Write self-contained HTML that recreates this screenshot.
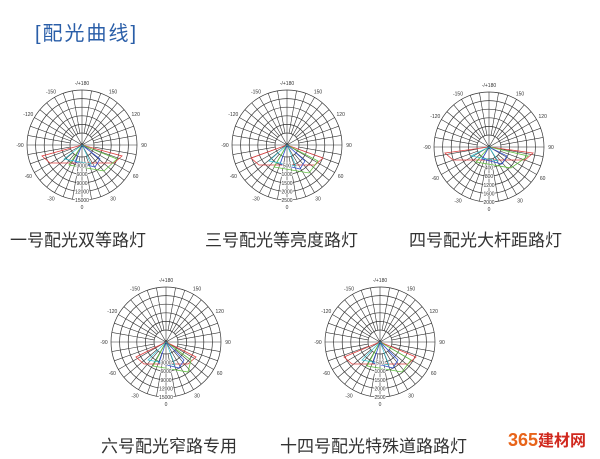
<!DOCTYPE html>
<html><head><meta charset="utf-8"><style>
body{margin:0;width:600px;height:459px;background:#fff;overflow:hidden;position:relative;font-family:"Liberation Sans","Noto Sans CJK SC",sans-serif}
.t{position:absolute;color:#333;font-size:17px;white-space:nowrap;font-family:"Liberation Sans","Noto Sans CJK SC",sans-serif}
</style></head><body>
<div class="t" style="left:35px;top:17px;color:#2a5ea8;font-size:20px;letter-spacing:2px">[配光曲线]</div>
<svg id="s" width="600" height="459" style="position:absolute;left:0;top:0"></svg>
<div class="t" style="left:10px;top:226px">一号配光双等路灯</div>
<div class="t" style="left:205px;top:226px">三号配光等亮度路灯</div>
<div class="t" style="left:409px;top:226px">四号配光大杆距路灯</div>
<div class="t" style="left:101px;top:432px">六号配光窄路专用</div>
<div class="t" style="left:280px;top:432px">十四号配光特殊道路路灯</div>
<div class="t" style="left:508px;top:427px;font-size:18px;font-weight:bold;color:#e8641a">365<span style="color:#d0281e;font-size:16px">建材网</span></div>
<script>
var s=document.getElementById('s'),h='';
var C=[[82,145,['3000','6000','9000','12000','15000']],[287,145,['500','1000','1500','2000','2500']],[489,147,['400','800','1200','1600','2000']],[166,342,['3000','6000','9000','12000','15000']],[380,342,['500','1000','1500','2000','2500']]];
C.forEach(function(c,k){var x=c[0],y=c[1],R=55,r0=12;
for(var i=0;i<=5;i++){var r=i==0?r0:r0+(R-r0)*i/5;h+='<circle cx="'+x+'" cy="'+y+'" r="'+r+'" fill="none" stroke="#333" stroke-width="0.7"/>';}
for(var a=0;a<360;a+=10){var t=a*Math.PI/180,ri=(a%30==0)?0:r0;h+='<line x1="'+(x+ri*Math.sin(t))+'" y1="'+(y+ri*Math.cos(t))+'" x2="'+(x+R*Math.sin(t))+'" y2="'+(y+R*Math.cos(t))+'" stroke="#333" stroke-width="0.6"/>';}
var L=[[180,'-/+180'],[150,'150'],[-150,'-150'],[120,'120'],[-120,'-120'],[90,'90'],[-90,'-90'],[60,'60'],[-60,'-60'],[30,'30'],[-30,'-30'],[0,'0']];
L.forEach(function(l){var t=l[0]*Math.PI/180,d=62;h+='<text x="'+(x+d*Math.sin(t))+'" y="'+(y+d*Math.cos(t)+2)+'" font-size="5" text-anchor="middle" fill="#333">'+l[1]+'</text>';});
var w=[40,36,44,30,36][k],dd=[14,16,9,18,18][k];
h+='<polygon points="'+x+','+y+' '+(x-w)+','+(y+dd-3)+' '+(x-w+8)+','+(y+dd+4)+' '+(x+w-8)+','+(y+dd+4)+' '+(x+w)+','+(y+dd-3)+'" fill="none" stroke="#e04040" stroke-width="0.8"/>';
h+='<polygon points="'+x+','+y+' '+(x-13)+','+(y+dd+6)+' '+(x+22)+','+(y+dd+12)+' '+(x+w-5)+','+(y+dd)+'" fill="none" stroke="#60c040" stroke-width="0.8"/>';
h+='<polygon points="'+x+','+y+' '+(x-7)+','+(y+dd+3)+' '+(x+13)+','+(y+dd+8)+' '+(x+18)+','+(y+dd)+'" fill="none" stroke="#3050d0" stroke-width="0.8"/>';
h+='<polygon points="'+x+','+y+' '+(x-18)+','+(y+dd)+' '+(x+9)+','+(y+dd+5)+'" fill="none" stroke="#30c0d0" stroke-width="0.7"/>';
h+='<text x="'+x+'" y="'+(y+2)+'" font-size="5" text-anchor="middle" fill="#333">0</text>';
for(var i=0;i<5;i++){h+='<text x="'+x+'" y="'+(y+r0+(R-r0)*(i+1)/5+2)+'" font-size="5" text-anchor="middle" fill="#333" stroke="#fff" stroke-width="1.5" paint-order="stroke">'+c[2][i]+'</text>';}
});
s.innerHTML=h;
</script>
</body></html>
